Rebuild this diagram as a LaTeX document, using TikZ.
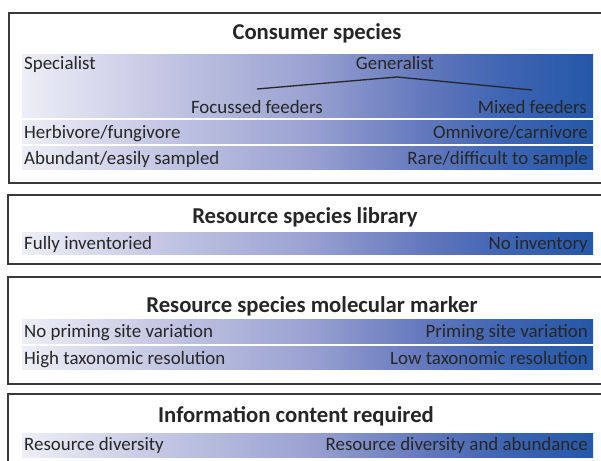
\documentclass[tikz,border=0pt]{standalone}
\usepackage{fontspec}
\setmainfont{Carlito}
\usetikzlibrary{calc}
\definecolor{barA}{HTML}{EEEEF7}
\definecolor{barB}{HTML}{C3C6E3}
\definecolor{barC}{HTML}{9AA2D1}
\definecolor{barD}{HTML}{6479BD}
\definecolor{barE}{HTML}{3D64B2}
\definecolor{barF}{HTML}{2458A8}
\definecolor{txtgray}{HTML}{262626}
\definecolor{boxgray}{HTML}{3A3A3A}
\pgfdeclarehorizontalshading{barshade}{100bp}{color(0bp)=(barA); color(25bp)=(barA); color(37.5bp)=(barB); color(50bp)=(barC); color(60bp)=(barD); color(67.5bp)=(barE); color(75bp)=(barF); color(100bp)=(barF)}
\tikzset{
  panel/.style={draw=boxgray, line width=1.4pt},
  bar/.style={shading=barshade},
  ttl/.style={anchor=base, inner sep=0pt, text=txtgray, font=\fontsize{22.7}{26}\selectfont\bfseries},
  lft/.style={anchor=base west, inner sep=0pt, text=txtgray, font=\fontsize{18.9}{22}\selectfont},
  rgt/.style={anchor=base east, inner sep=0pt, text=txtgray, font=\fontsize{18.9}{22}\selectfont},
  mid/.style={anchor=base, inner sep=0pt, text=txtgray, font=\fontsize{18.9}{22}\selectfont},
  branch/.style={draw=txtgray, line width=1.3pt}
}

\begin{document}
\begin{tikzpicture}[x=1pt, y=-1pt]
\useasboundingbox (0,0) rectangle (601,460);
\clip (0,0) rectangle (601,460);
% consumer species
\draw[panel] (9,13) rectangle (625,183);
\shade[bar] (22,54) rectangle (593,117);
\shade[bar] (22,120) rectangle (593,143);
\shade[bar] (22,146) rectangle (593,169);
\node[ttl] (consumer) at (317,40) {Consumer species};
\node[lft] (specialist) at (24,69) {Specialist};
\node[mid] (generalist) at (395,69) {Generalist};
\node[rgt] (focussed) at (323,113) {Focussed feeders};
\node[rgt] (mixed) at (587,113) {Mixed feeders};
\coordinate (gleft) at (257,89);
\coordinate (gtop) at (397,77);
\coordinate (gright) at (532,90);
\draw[branch] (gleft) -- (gtop) -- (gright);
\node[lft] (herbivore) at (24,138) {Herbivore/fungivore};
\node[rgt] (omnivore) at (588,138) {Omnivore/carnivore};
\node[lft] (abundant) at (24,164) {Abundant/easily sampled};
\node[rgt] (rare) at (588,164) {Rare/difficult to sample};
% resource species library
\draw[panel] (8,195) rectangle (625,264);
\shade[bar] (22,232) rectangle (593,254);
\node[ttl] (library) at (305,223) {Resource species library};
\node[lft] (inventoried) at (24,249) {Fully inventoried};
\node[rgt] (noinventory) at (588,249) {No inventory};
% resource species molecular marker
\draw[panel] (8,277) rectangle (625,384);
\shade[bar] (22,319) rectangle (593,343);
\shade[bar] (22,346) rectangle (593,369);
\node[ttl] (marker) at (312,312) {Resource species molecular marker};
\node[lft] (nopriming) at (24,337) {No priming site variation};
\node[rgt] (priming) at (588,337) {Priming site variation};
\node[lft] (highres) at (24,364) {High taxonomic resolution};
\node[rgt] (lowres) at (588,364) {Low taxonomic resolution};
% information content required
\draw[panel] (8,394) rectangle (625,480);
\shade[bar] (22,433) rectangle (593,457);
\node[ttl] (information) at (296,422) {Information content required};
\node[lft] (diversity) at (24,450) {Resource diversity};
\node[rgt] (abundance) at (588,450) {Resource diversity and abundance};
\end{tikzpicture}
\end{document}
